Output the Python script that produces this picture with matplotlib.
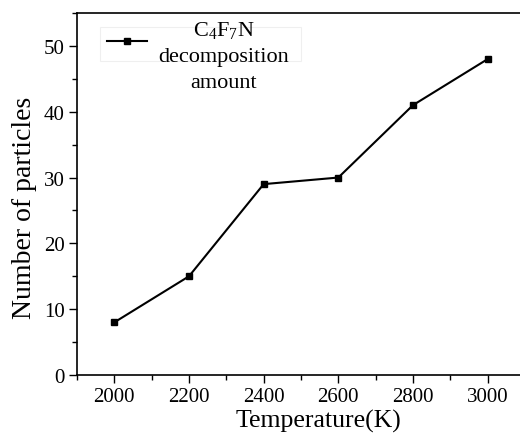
import matplotlib
matplotlib.use("Agg")
import matplotlib.pyplot as plt
from matplotlib.ticker import MultipleLocator

temperature = [2000, 2200, 2400, 2600, 2800, 3000]
particles = [8, 15, 29, 30, 41, 48]
legend_lines = ["C$_4$F$_7$N", "decomposition", "amount"]

plt.rcParams['font.family'] = ['Liberation Serif', 'DejaVu Serif']
plt.rcParams['mathtext.fontset'] = 'custom'
plt.rcParams['mathtext.rm'] = 'Liberation Serif'
plt.rcParams['mathtext.it'] = 'Liberation Serif:italic'

W, H = 520, 435
fig = plt.figure(figsize=(W / 100, H / 100), dpi=100)
# axes box in pixels: left 77, right ~525 (cut by figure edge), top 14, bottom 376
L, R, T, B = 77, 525, 14, 376
ax = fig.add_axes([L / W, (H - B) / H, (R - L) / W, (B - T) / H])


def fx(px):
    return (px - L) / (R - L)


def fy(py):
    return (B - py) / (B - T)


ax.plot(temperature, particles, color="black", lw=1.5, marker="s", ms=5,
        label="decomposition")

ax.set_xlim(1900, 3100)
ax.set_ylim(0, 55)
ax.xaxis.set_major_locator(MultipleLocator(200))
ax.xaxis.set_minor_locator(MultipleLocator(100))
ax.yaxis.set_major_locator(MultipleLocator(10))
ax.yaxis.set_minor_locator(MultipleLocator(5))
ax.tick_params(which="both", direction="out", labelsize=15, width=1, pad=3.5)
ax.tick_params(which="major", length=5.5)
ax.tick_params(which="minor", length=3.5)
for s in ax.spines.values():
    s.set_linewidth(1.2)
ax.spines["right"].set_visible(False)

ax.set_xlabel("Temperature(K)", fontsize=18.5)
ax.xaxis.set_label_coords(fx(318), fy(410))
ax.set_ylabel("Number of particles", fontsize=20)
ax.yaxis.set_label_coords(fx(37), fy(208))

# legend frame + handle only; the text is written on top (Origin-style overflow)
leg = ax.legend(loc="upper left", bbox_to_anchor=(fx(100), fy(28)), borderaxespad=0,
                fontsize=16, frameon=True, fancybox=False, edgecolor="#ececec",
                handlelength=1.8, borderpad=0.3, handletextpad=0.75)
leg.get_frame().set_linewidth(0.8)
for t in leg.get_texts():
    t.set_alpha(0)

for line, base in zip(legend_lines, [36, 62, 88]):
    ax.text(fx(224), fy(base), line, transform=ax.transAxes, fontsize=16,
            ha="center", va="baseline", zorder=10)

fig.savefig("out.png", dpi=100)
